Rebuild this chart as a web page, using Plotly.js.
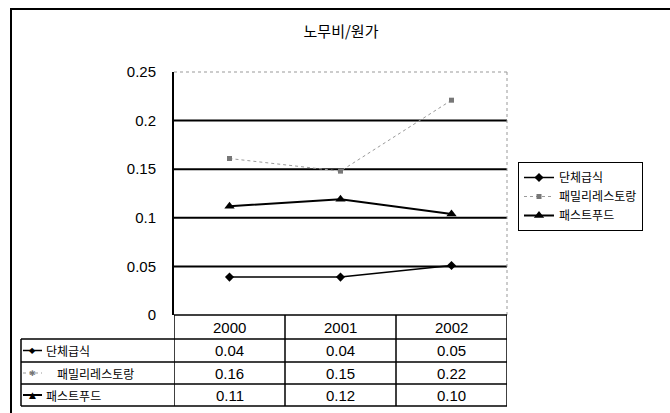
<!DOCTYPE html>
<html><head><meta charset="utf-8">
<script src="https://cdn.plot.ly/plotly-3.0.1.min.js"></script>
<style>html,body{margin:0;padding:0;background:#fff;}#chart{width:670px;height:413px;}</style>
</head><body><div id="chart"></div>
<script>
// ---- data ----
const categories = ['2000', '2001', '2002'];
const seriesNames = ['단체급식', '패밀리레스토랑', '패스트푸드'];
const dancheValues = [0.039, 0.039, 0.051];
const familyValues = [0.161, 0.148, 0.221];
const fastValues = [0.112, 0.119, 0.104];
const yTickVals = [0, 0.05, 0.1, 0.15, 0.2, 0.25];
const chartTitle = '노무비/원가';

// ---- layout geometry (pixels) ----
const W = 670, H = 413;
const L = 174, R = 507, T = 72, B = 315;
const px = p => (p - L) / (R - L);
const py = p => (B - p) / (B - T);
const rowEdges = [315, 339, 362, 384, 406];
const tableLeft = 21;

const xIdx = categories.map((c, i) => i);
const seriesValues = [dancheValues, familyValues, fastValues];
const styles = [
  {line: {color: '#000', width: 1.5}, marker: {symbol: 'diamond', size: 7, color: '#000'}},
  {line: {color: '#9a9a9a', width: 1, dash: 'dot'}, marker: {symbol: 'square', size: 5, color: '#777'}},
  {line: {color: '#000', width: 2}, marker: {symbol: 'triangle-up', size: 9, color: '#000'}}
];

const traces = seriesValues.map((vals, s) => ({
  type: 'scatter', mode: 'lines+markers', name: seriesNames[s],
  x: xIdx, y: vals, line: styles[s].line, marker: styles[s].marker,
  cliponaxis: false, hoverinfo: 'skip'
}));

const shapes = [];
const annotations = [];
const blk = {color: '#000', width: 1.5};

// gridlines
yTickVals.forEach(v => {
  if (v > 0 && v < 0.25) shapes.push({type: 'line', xref: 'paper', yref: 'y', x0: 0, x1: 1, y0: v, y1: v, line: {color: '#000', width: 2}, layer: 'below'});
});
// top and right dotted border of plot area
shapes.push({type: 'line', xref: 'paper', yref: 'paper', x0: 0, x1: 1, y0: 1, y1: 1, line: {color: '#999', width: 1, dash: 'dot'}, layer: 'below'});
shapes.push({type: 'line', xref: 'paper', yref: 'paper', x0: 1, x1: 1, y0: 0, y1: 1, line: {color: '#999', width: 1, dash: 'dot'}, layer: 'below'});

// outer frame
shapes.push({type: 'rect', xref: 'paper', yref: 'paper', x0: px(11), x1: px(690), y0: py(9), y1: py(430), line: {color: '#000', width: 2}});

// table horizontal lines
rowEdges.forEach((e, k) => {
  shapes.push({type: 'line', xref: 'paper', yref: 'paper', x0: px(k === 0 ? L : tableLeft), x1: 1, y0: py(e), y1: py(e), line: blk});
});
// table vertical lines
shapes.push({type: 'line', xref: 'paper', yref: 'paper', x0: px(tableLeft), x1: px(tableLeft), y0: py(rowEdges[1]), y1: py(rowEdges[4]), line: blk});
for (let i = 0; i <= categories.length; i++) {
  shapes.push({type: 'line', xref: 'x', yref: 'paper', x0: i - 0.5, x1: i - 0.5, y0: py(rowEdges[0]), y1: py(rowEdges[4]), line: blk});
}
const baseFont = {family: 'Liberation Sans, Arial, Noto Sans CJK KR, sans-serif', size: 15, color: '#000'};
// header row: categories
categories.forEach((c, i) => {
  annotations.push({xref: 'x', yref: 'paper', x: i, y: py((rowEdges[0] + rowEdges[1]) / 2), text: c, showarrow: false, font: baseFont, xanchor: 'center', yanchor: 'middle'});
});
// value rows
const keyGlyph = ['◆', '✱', '▲'];
seriesValues.forEach((vals, s) => {
  const yc = (rowEdges[s + 1] + rowEdges[s + 2]) / 2;
  vals.forEach((v, i) => {
    annotations.push({xref: 'x', yref: 'paper', x: i, y: py(yc), text: v.toFixed(2), showarrow: false, font: baseFont, xanchor: 'center', yanchor: 'middle'});
  });
  // key line
  shapes.push({type: 'line', xref: 'paper', yref: 'paper', x0: px(23), x1: px(42), y0: py(yc), y1: py(yc), line: styles[s].line});
  annotations.push({xref: 'paper', yref: 'paper', x: px(32.5), y: py(yc), text: keyGlyph[s], showarrow: false,
    font: {family: 'DejaVu Sans', size: s === 2 ? 9 : 8, color: styles[s].marker.color}, xanchor: 'center', yanchor: 'middle'});
  annotations.push({xref: 'paper', yref: 'paper', x: px(s === 1 ? 55 : 44), y: py(yc), text: seriesNames[s], showarrow: false,
    font: {family: 'Noto Sans CJK KR', size: 12, color: '#000'}, xanchor: 'left', yanchor: 'middle'});
});

const layout = {
  width: W, height: H,
  margin: {l: L, r: W - R, t: T, b: H - B, pad: 0},
  paper_bgcolor: '#fff', plot_bgcolor: '#fff',
  title: {text: chartTitle, xref: 'container', yref: 'container', x: 341 / W, y: 1 - 32 / H, xanchor: 'center', yanchor: 'middle',
    font: {family: 'Noto Sans CJK KR', size: 15, color: '#000'}},
  xaxis: {range: [-0.5, categories.length - 0.5], showticklabels: false, showgrid: false, zeroline: false, showline: false, ticks: '', fixedrange: true},
  yaxis: {range: [0, 0.25], tickvals: yTickVals, showgrid: false, zeroline: false, showline: true, linecolor: '#000', linewidth: 2,
    ticks: 'outside', ticklen: 13, tickcolor: 'rgba(0,0,0,0)', tickfont: baseFont, fixedrange: true},
  showlegend: true,
  legend: {x: px(518), y: py(162), xanchor: 'left', yanchor: 'top', bordercolor: '#000', borderwidth: 1, bgcolor: '#fff',
    font: {family: 'Noto Sans CJK KR', size: 12, color: '#000'}, tracegroupgap: 0, itemwidth: 30},
  shapes: shapes, annotations: annotations
};

Plotly.newPlot('chart', traces, layout, {displayModeBar: false, staticPlot: true});
</script></body></html>
